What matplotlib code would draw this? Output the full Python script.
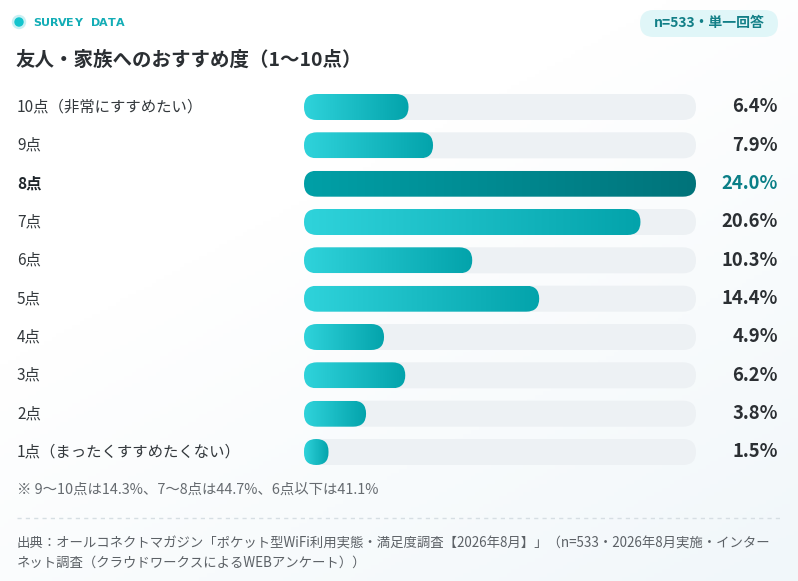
import numpy as np
import matplotlib
matplotlib.use('Agg')
import matplotlib.pyplot as plt
from matplotlib.patches import FancyBboxPatch, Circle
from matplotlib.colors import LinearSegmentedColormap
from matplotlib.transforms import blended_transform_factory

plt.rcParams['font.family'] = ['Noto Sans CJK JP', 'DejaVu Sans']

# data
labels = ['10点（非常にすすめたい）', '9点', '8点', '7点', '6点',
          '5点', '4点', '3点', '2点', '1点（まったくすすめたくない）']
values = [6.4, 7.9, 24.0, 20.6, 10.3, 14.4, 4.9, 6.2, 3.8, 1.5]
highlight_label = '8点'

title = '友人・家族へのおすすめ度（1〜10点）'
badge_text = 'n=533・単一回答'
note_text = '※ 9〜10点は14.3%、7〜8点は44.7%、6点以下は41.1%'
source_lines = ['出典：オールコネクトマガジン「ポケット型WiFi利用実態・満足度調査【2026年8月】」（n=533・2026年8月実施・インター',
                'ネット調査（クラウドワークスによるWEBアンケート））']

# colours
TRACK_COLOR = '#edf1f4'
BAR_CMAP = LinearSegmentedColormap.from_list('bar', ['#2fd3db', '#03a3ab'])
HL_CMAP = LinearSegmentedColormap.from_list('hl', ['#00a0a7', '#00737a'])
TEXT_COLOR = '#2b2f33'
HL_TEXT_COLOR = '#0b7f87'
GRAY_TEXT = '#666b70'
ACCENT = '#13adb6'

W, H = 798, 581
fig = plt.figure(figsize=(W / 100, H / 100), dpi=100)

# background with faint tint in the lower right
bg = fig.add_axes([0, 0, 1, 1], zorder=-10)
gx, gy = np.meshgrid(np.linspace(0, 1, 200), np.linspace(0, 1, 150))
tint = np.clip((gx * 0.6 + gy * 0.8) - 0.5, 0, 1) / 0.9
bg_cmap = LinearSegmentedColormap.from_list('bg', ['#ffffff', '#f1f7fa'])
bg.imshow(tint, cmap=bg_cmap, extent=[0, 1, 0, 1], origin='upper', aspect='auto')
bg.axis('off')

# canvas axes in pixel units for decorations
cv = fig.add_axes([0, 0, 1, 1], zorder=5)
cv.set_xlim(0, W)
cv.set_ylim(H, 0)
cv.axis('off')
cv.patch.set_alpha(0)

# header
cv.add_patch(Circle((19, 22), 6.5, color='#c8f0f3', zorder=2))
cv.add_patch(Circle((19, 22), 4, color='#13c4cd', zorder=3))
for k, ch in enumerate('SURVEY DATA'):
    cv.text(33 + k * 8.3, 22.5, ch, fontsize=8, fontweight='bold', color=ACCENT,
            ha='left', va='center', family=['DejaVu Sans'])
cv.text(16, 60, title, fontsize=14, fontweight='bold', color=TEXT_COLOR, ha='left', va='center')

cv.add_patch(FancyBboxPatch((640, 10), 138, 27, boxstyle='round,pad=0,rounding_size=13.5',
                            facecolor='#e0f6f8', edgecolor='none'))
cv.text(709, 23.5, badge_text, fontsize=10, fontweight='bold', color='#127f87', ha='center', va='center')

# bar axes
BAR_LEFT, BAR_RIGHT = 304, 696
ROW_TOP, ROW_BOTTOM = 107, 452
BAR_H_PX = 26
n = len(values)
row_px = (ROW_BOTTOM - ROW_TOP) / (n - 1)
y_top = ROW_TOP - row_px / 2
y_bot = ROW_BOTTOM + row_px / 2
ax = fig.add_axes([BAR_LEFT / W, 1 - y_bot / H, (BAR_RIGHT - BAR_LEFT) / W, (y_bot - y_top) / H], zorder=3)
ax.patch.set_alpha(0)
ax.axis('off')

x_max = max(values)
xpp = x_max / (BAR_RIGHT - BAR_LEFT)
ypp = 1 / row_px
bar_h = BAR_H_PX * ypp
aspect = ypp / xpp
grad = np.linspace(0, 1, 256).reshape(1, -1)

for i, (lab, v) in enumerate(zip(labels, values)):
    y0 = i - bar_h / 2
    r_track = BAR_H_PX / 2 * xpp
    ax.add_patch(FancyBboxPatch((0, y0), x_max, bar_h,
                                boxstyle=f'round,pad=0,rounding_size={r_track}',
                                mutation_aspect=aspect, facecolor=TRACK_COLOR, edgecolor='none', zorder=1))
    w_px = v / xpp
    r = min(BAR_H_PX / 2, w_px / 2) * xpp
    clip = FancyBboxPatch((0, y0), v, bar_h, boxstyle=f'round,pad=0,rounding_size={r}',
                          mutation_aspect=aspect, facecolor='none', edgecolor='none', zorder=2)
    ax.add_patch(clip)
    is_hl = lab == highlight_label
    im = ax.imshow(grad, cmap=HL_CMAP if is_hl else BAR_CMAP, extent=[0, v, i + bar_h / 2, y0],
                   aspect='auto', interpolation='bicubic', zorder=2)
    im.set_clip_path(clip)

    trans = blended_transform_factory(fig.transFigure, ax.transData)
    ax.text(17 / W, i, lab, transform=trans, fontsize=11.1,
            fontweight='bold' if is_hl else 'normal',
            color='#1f262b' if is_hl else '#33383c', ha='left', va='center')
    ax.text(778 / W, i, f'{v:.1f}%', transform=trans, fontsize=13.3, fontweight='bold',
            color=HL_TEXT_COLOR if is_hl else TEXT_COLOR, ha='right', va='center')

ax.set_xlim(0, x_max)
ax.set_ylim(n - 0.5, -0.5)

# footnote and source
cv.text(17, 490, note_text, fontsize=10.4, color=GRAY_TEXT, ha='left', va='center')
cv.plot([17, 780], [518, 518], color='#d6dee3', linewidth=1, linestyle=(0, (3, 3)))
cv.text(17, 544, source_lines[0], fontsize=9.65, color='#5c6166', ha='left', va='center')
cv.text(17, 563, source_lines[1], fontsize=9.65, color='#5c6166', ha='left', va='center')

fig.savefig('out.png', dpi=100)
